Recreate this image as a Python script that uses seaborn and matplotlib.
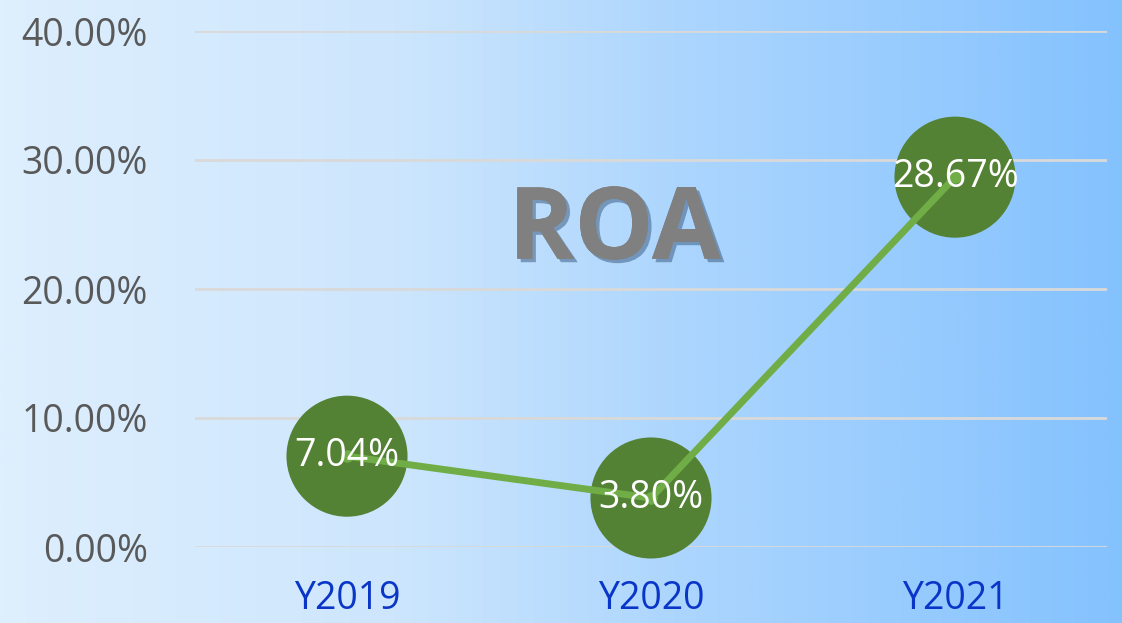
import numpy as np
import pandas as pd
import matplotlib
matplotlib.use("Agg")
import matplotlib.pyplot as plt
import matplotlib.patheffects as pe
from matplotlib.colors import LinearSegmentedColormap
from matplotlib.ticker import FuncFormatter
import seaborn as sns

# chart data
years = ["Y2019", "Y2020", "Y2021"]
roa_pct = [7.04, 3.80, 28.67]
y_ticks = [0, 10, 20, 30, 40]


def make_background(fig):
    """Horizontal light-to-deeper blue gradient behind everything."""
    bg = fig.add_axes([0, 0, 1, 1], zorder=-10)
    cmap = LinearSegmentedColormap.from_list(
        "bg",
        [(0.0, "#DEEFFE"), (0.35, "#CDE6FD"), (0.6, "#ADD6FE"), (1.0, "#84C2FE")],
    )
    bg.imshow(np.linspace(0, 1, 512)[None, :], aspect="auto", cmap=cmap,
              extent=[0, 1, 0, 1])
    bg.set_axis_off()


def plot_roa(df: pd.DataFrame):
    sns.set_theme(style="white")
    plt.rcParams["font.family"] = ["Open Sans", "DejaVu Sans"]

    fig = plt.figure(figsize=(11.22, 6.23), dpi=100)
    make_background(fig)
    ax = fig.add_axes([195 / 1122, 76 / 623, 912 / 1122, 516 / 623])
    ax.patch.set_alpha(0)

    x = np.arange(len(df))
    sns.scatterplot(x=x, y=df["roa"], s=7600, color="#548235", edgecolor="none",
                    ax=ax, zorder=2, legend=False, clip_on=False)
    sns.lineplot(x=x, y=df["roa"], color="#70AD47", linewidth=5, marker="o",
                 markersize=9, markeredgewidth=0, ax=ax, zorder=3)

    for xi, val in zip(x, df["roa"]):
        ax.text(xi, val, f"{val:.2f}%", color="white", fontsize=27,
                ha="center", va="center", zorder=4)

    ax.set_xlim(-0.5, len(df) - 0.5)
    ax.set_ylim(0, 40)
    ax.set_yticks(y_ticks)
    ax.yaxis.set_major_formatter(FuncFormatter(lambda v, _: f"{v:.2f}%"))
    ax.set_xticks(x)
    ax.set_xticklabels(df["year"])
    ax.tick_params(axis="y", labelsize=27, labelcolor="#595959", pad=34, length=0)
    ax.tick_params(axis="x", labelsize=27, labelcolor="#0A36C8", pad=24, length=0)
    ax.grid(axis="y", color="#D9D9D9", linewidth=2, zorder=1)
    ax.set_axisbelow(True)
    for side in ax.spines.values():
        side.set_visible(False)
    ax.set_xlabel("")
    ax.set_ylabel("")

    ax.text(0.46, 0.61, "ROA", transform=ax.transAxes, fontsize=72,
            fontweight="bold", family=["Open Sans", "DejaVu Sans"],
            color="#808080", ha="center", va="center", zorder=1.5,
            path_effects=[pe.withSimplePatchShadow(offset=(2.5, -2.5),
                                                   shadow_rgbFace="#3E5F85",
                                                   alpha=0.55),
                          pe.Normal()])

    fig.savefig("out.png", dpi=100)


def main():
    df = pd.DataFrame({"year": years, "roa": roa_pct})
    plot_roa(df)


if __name__ == "__main__":
    main()
